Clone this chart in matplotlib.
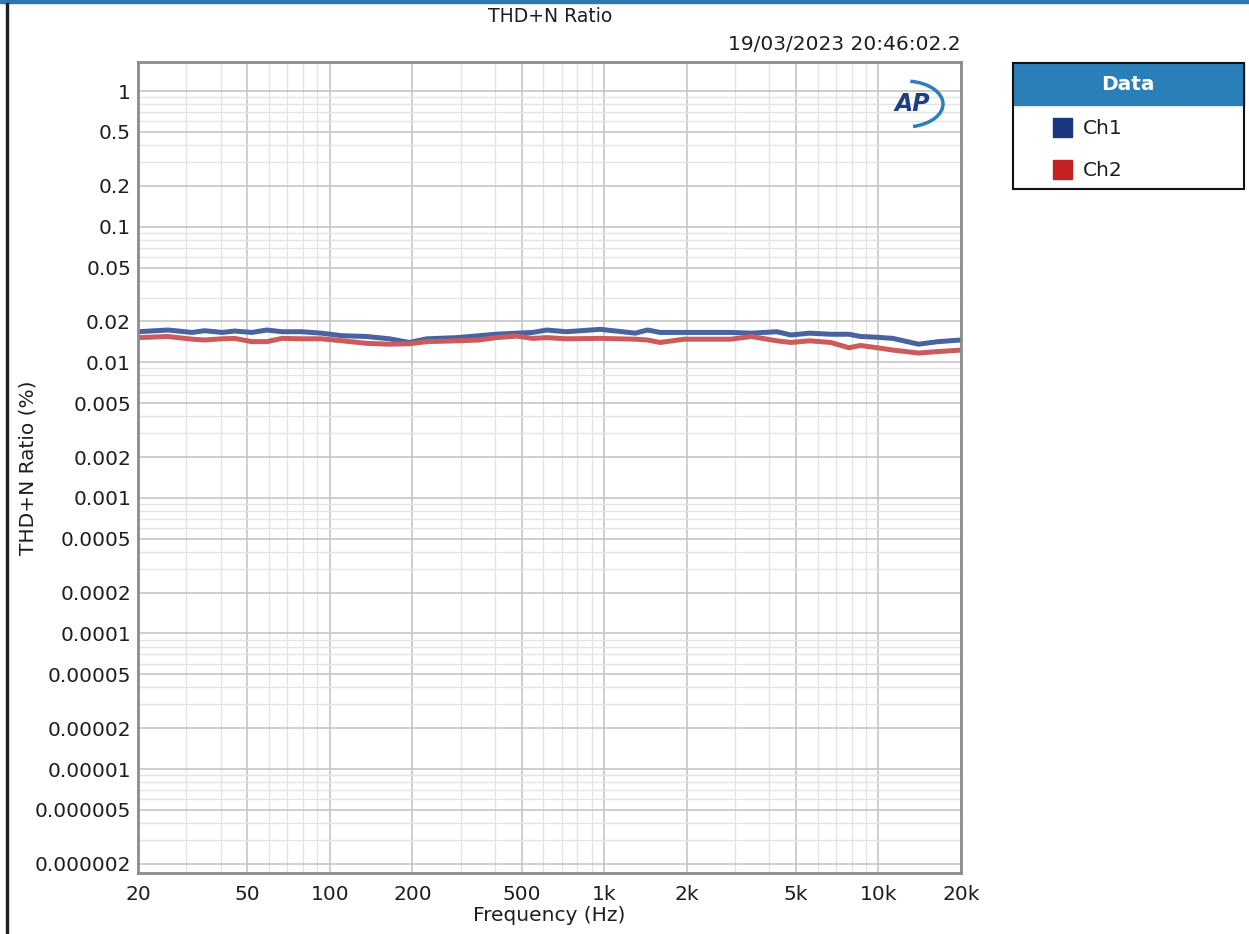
import numpy as np
import matplotlib
matplotlib.use("Agg")
import matplotlib.pyplot as plt
from matplotlib.patches import Rectangle, Arc
from matplotlib.ticker import FixedLocator, FixedFormatter, NullFormatter

# frequency points (Hz) and THD+N ratio (%)
freq = [20, 25.7, 31.5, 35, 40.5, 45, 52, 59, 67, 79, 93, 111, 136, 165, 195,
        226, 291, 350, 405, 480, 549, 618, 727, 970, 1300, 1440, 1600, 1960,
        2900, 3440, 4260, 4800, 5600, 6700, 7800, 8600, 9900, 11300, 14000,
        16500, 20000]
ch1 = [0.0168, 0.0173, 0.0166, 0.0171, 0.0166, 0.0170, 0.0166, 0.0173, 0.0168,
       0.0168, 0.0164, 0.0157, 0.0155, 0.0149, 0.0140, 0.0149, 0.0152, 0.0157,
       0.0161, 0.0164, 0.0166, 0.0173, 0.0168, 0.0175, 0.0164, 0.0173, 0.0166,
       0.0166, 0.0166, 0.0164, 0.0168, 0.0159, 0.0164, 0.0161, 0.0161, 0.0155,
       0.0153, 0.0150, 0.0136, 0.0142, 0.0146]
ch2 = [0.0152, 0.0155, 0.0148, 0.0146, 0.0149, 0.0150, 0.0142, 0.0142, 0.0150,
       0.0149, 0.0149, 0.0144, 0.0138, 0.0136, 0.0137, 0.0142, 0.0144, 0.0146,
       0.0152, 0.0156, 0.0150, 0.0152, 0.0149, 0.0150, 0.0148, 0.0146, 0.0140,
       0.0148, 0.0148, 0.0155, 0.0144, 0.0140, 0.0144, 0.0140, 0.0128, 0.0133,
       0.0128, 0.0123, 0.0117, 0.0120, 0.0123]

x_ticks = [20, 50, 100, 200, 500, 1000, 2000, 5000, 10000, 20000]
x_labels = ["20", "50", "100", "200", "500", "1k", "2k", "5k", "10k", "20k"]
y_ticks = [1, 0.5, 0.2, 0.1, 0.05, 0.02, 0.01, 0.005, 0.002, 0.001, 0.0005,
           0.0002, 0.0001, 0.00005, 0.00002, 0.00001, 0.000005, 0.000002]
y_labels = ["1", "0.5", "0.2", "0.1", "0.05", "0.02", "0.01", "0.005", "0.002",
            "0.001", "0.0005", "0.0002", "0.0001", "0.00005", "0.00002",
            "0.00001", "0.000005", "0.000002"]

W, H = 1249, 934
fig = plt.figure(figsize=(W / 100, H / 100), dpi=100)
txt = "#1e1e1e"
fs = 14.5


def fx(x):
    return x / W


def fy(y):
    return 1 - y / H


ax = fig.add_axes([fx(138), fy(873), fx(961) - fx(138), fy(62) - fy(873)])
ax.plot(freq, ch1, color="#4863a0", lw=3.6, solid_capstyle="round")
ax.plot(freq, ch2, color="#cc5c5c", lw=3.6, solid_capstyle="round")
ax.set_xscale("log")
ax.set_yscale("log")
ax.set_xlim(20, 20000)
ax.set_ylim(1.71e-6, 1.64)

ax.xaxis.set_major_locator(FixedLocator(x_ticks))
ax.xaxis.set_major_formatter(FixedFormatter(x_labels))
xminor = [m * 10 ** d for d in range(1, 5) for m in range(1, 10)]
xminor = [v for v in xminor if 20 <= v <= 20000 and v not in x_ticks]
ax.xaxis.set_minor_locator(FixedLocator(xminor))
ax.xaxis.set_minor_formatter(NullFormatter())

ax.yaxis.set_major_locator(FixedLocator(y_ticks))
ax.yaxis.set_major_formatter(FixedFormatter(y_labels))
yminor = [m * 10.0 ** d for d in range(-6, 1) for m in range(1, 10)]
yminor = [v for v in yminor if 1.71e-6 <= v <= 1.64
          and not any(abs(v - t) / t < 1e-6 for t in y_ticks)]
ax.yaxis.set_minor_locator(FixedLocator(yminor))
ax.yaxis.set_minor_formatter(NullFormatter())

ax.grid(True, which="major", color="#c6c6c6", lw=1.2)
ax.grid(True, which="minor", color="#e4e4e4", lw=1.0)
ax.set_axisbelow(True)
ax.tick_params(which="both", length=0, labelsize=fs, labelcolor=txt)
ax.tick_params(axis="y", pad=5)
ax.tick_params(axis="x", pad=9)
for s in ax.spines.values():
    s.set_color("#8c8c8c")
    s.set_linewidth(2)

ax.set_xlabel("Frequency (Hz)", fontsize=fs, color=txt)
ax.set_ylabel("THD+N Ratio (%)", fontsize=fs, color=txt)
ax.xaxis.set_label_coords(0.5, -0.041)
ax.yaxis.set_label_coords(-0.122, 0.5)

fig.text(fx(550), fy(17), "THD+N Ratio", ha="center", va="center",
         fontsize=13.5, color=txt)
fig.text(fx(961), fy(45), "19/03/2023 20:46:02.2", ha="right", va="center",
         fontsize=fs, color=txt)

# AP logo
fig.text(fx(912), fy(104), "AP", ha="center", va="center", fontsize=17,
         fontweight="bold", fontstyle="italic", color="#1f3f80")
fig.patches.append(Arc((fx(905), fy(104)), 76 / W, 46 / H, theta1=-75,
                       theta2=80, color="#2c7fc0", lw=2.5,
                       transform=fig.transFigure))

# window frame
fig.patches.append(Rectangle((0, fy(3)), 1, 3 / H, color="#2e78b0",
                             transform=fig.transFigure))
fig.patches.append(Rectangle((fx(5.5), 0), 2.5 / W, fy(3), color="#202020",
                             transform=fig.transFigure))

# legend panel
lx0, lx1, ly0, ly1 = 1013, 1244, 63, 189
fig.patches.append(Rectangle((fx(lx0), fy(105)), fx(lx1) - fx(lx0),
                             fy(ly0) - fy(105), color="#2a7fb8",
                             transform=fig.transFigure))
fig.patches.append(Rectangle((fx(lx0), fy(ly1)), fx(lx1) - fx(lx0),
                             fy(ly0) - fy(ly1), fill=False, ec="#111111",
                             lw=1.5, transform=fig.transFigure))
fig.text(fx(1128), fy(85), "Data", ha="center", va="center", fontsize=fs,
         fontweight="bold", color="white")
for yy, lab, col in [(128, "Ch1", "#1a3680"), (170, "Ch2", "#c42222")]:
    fig.patches.append(Rectangle((fx(1053), fy(yy + 9)), 19 / W, 19 / H,
                                 color=col, transform=fig.transFigure))
    fig.text(fx(1083), fy(yy), lab, ha="left", va="center", fontsize=fs,
             color=txt)

fig.savefig("out.png", dpi=100)
